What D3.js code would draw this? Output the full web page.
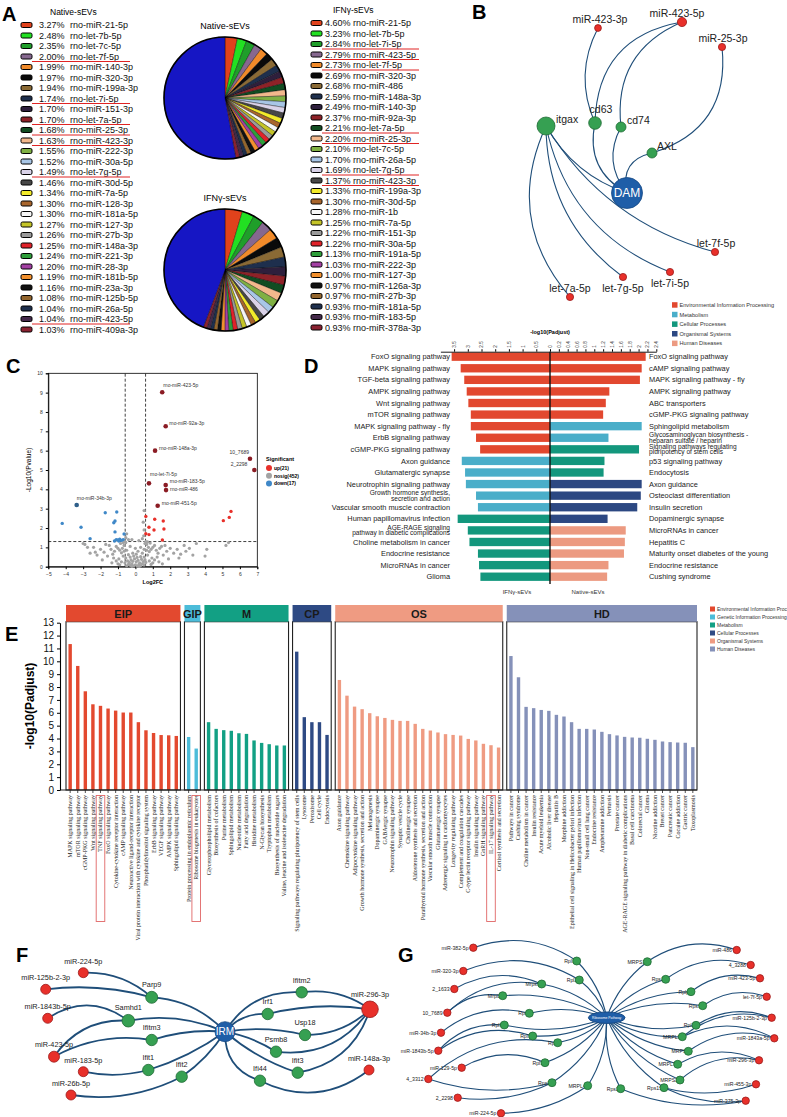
<!DOCTYPE html>
<html>
<head>
<meta charset="utf-8">
<script src="https://cdn.jsdelivr.net/npm/d3@7/dist/d3.min.js"></script>
<style>
  body { margin: 0; background: #fff; }
  svg { display: block; font-family: "Liberation Sans", Arial, sans-serif; }
</style>
</head>
<body>
<svg id="fig" width="787" height="1117"></svg>
<script>
// ---------- A: miRNA proportions ----------
const nativeNames = ["rno-miR-21-5p","rno-let-7b-5p","rno-let-7c-5p","rno-let-7f-5p","rno-miR-140-3p","rno-miR-320-3p","rno-miR-199a-3p","rno-let-7i-5p","rno-miR-151-3p","rno-let-7a-5p","rno-miR-25-3p","rno-miR-423-3p","rno-miR-222-3p","rno-miR-30a-5p","rno-let-7g-5p","rno-miR-30d-5p","rno-miR-7a-5p","rno-miR-128-3p","rno-miR-181a-5p","rno-miR-127-3p","rno-miR-27b-3p","rno-miR-148a-3p","rno-miR-221-3p","rno-miR-28-3p","rno-miR-181b-5p","rno-miR-23a-3p","rno-miR-125b-5p","rno-miR-26a-5p","rno-miR-423-5p","rno-miR-409a-3p"];
const nativePct = [3.27,2.48,2.35,2.00,1.99,1.97,1.94,1.74,1.70,1.70,1.68,1.63,1.55,1.52,1.49,1.46,1.34,1.30,1.30,1.27,1.26,1.25,1.24,1.20,1.19,1.16,1.08,1.04,1.04,1.03];
const nativeMarked = [3,7,9,10,11,14,28];
const ifnNames = ["rno-miR-21-5p","rno-let-7b-5p","rno-let-7i-5p","rno-miR-423-5p","rno-let-7f-5p","rno-miR-320-3p","rno-miR-486","rno-miR-148a-3p","rno-miR-140-3p","rno-miR-92a-3p","rno-let-7a-5p","rno-miR-25-3p","rno-let-7c-5p","rno-miR-26a-5p","rno-let-7g-5p","rno-miR-423-3p","rno-miR-199a-3p","rno-miR-30d-5p","rno-miR-1b","rno-miR-7a-5p","rno-miR-151-3p","rno-miR-30a-5p","rno-miR-191a-5p","rno-miR-222-3p","rno-miR-127-3p","rno-miR-126a-3p","rno-miR-27b-3p","rno-miR-181a-5p","rno-miR-183-5p","rno-miR-378a-3p"];
const ifnPct = [4.60,3.23,2.84,2.79,2.73,2.69,2.68,2.59,2.49,2.37,2.21,2.20,2.10,1.70,1.69,1.37,1.33,1.30,1.28,1.25,1.22,1.22,1.13,1.03,1.00,0.97,0.97,0.93,0.93,0.93];
const ifnMarked = [2,3,4,10,11,14,15];

// ---------- B: DAM network ----------
const bNodes = ["miR-423-3p","miR-423-5p","miR-25-3p","itgax","cd63","cd74","AXL","DAM","let-7f-5p","let-7i-5p","let-7g-5p","let-7a-5p"];
const bKinds = ["mir","mir","mir","gene","gene","gene","gene","hub","mir","mir","mir","mir"];
const bEdges = [["itgax","DAM"],["itgax","let-7f-5p"],["itgax","let-7i-5p"],["itgax","let-7g-5p"],["itgax","let-7a-5p"],["cd63","DAM"],["cd74","DAM"],["AXL","DAM"],["cd63","miR-423-3p"],["cd63","miR-423-5p"],["cd74","miR-423-5p"],["AXL","miR-25-3p"]];

// ---------- C: volcano ----------
const cUpNames = ["rno-miR-423-5p","rno-miR-92a-3p","rno-miR-148a-3p","10_7689","2_2298","rno-let-7i-5p","rno-miR-183-5p","rno-miR-486","rno-miR-451-5p"];
const cUpX = [1.54,1.74,1.13,6.58,6.83,0.78,1.74,1.76,1.28];
const cUpY = [9.02,7.26,6.0,5.58,5.0,4.31,4.22,3.96,3.15];
const cDownNames = ["rno-miR-34b-3p"];
const cDownX = [-3.37];
const cDownY = [3.19];
const upPts = [[5.49,2.86],[5.39,2.55],[5.05,2.38],[1.11,2.45],[1.60,2.36],[0.6,2.6],[0.78,2.04],[1.07,1.9],[1.64,1.95],[0.6,1.7],[0.78,1.66],[1.55,1.38]];
const downPts = [[-4.2,2.24],[-3.12,2.04],[-1.73,2.79],[-1.07,2.83],[-1.17,2.36],[-1.24,2.27],[-1.17,1.8],[-2.6,1.45],[-1.1,1.4],[-1.0,1.38],[-0.9,1.42],[-0.8,1.36],[-1.2,1.33],[-0.7,1.4],[-0.65,1.69],[-0.95,1.33]];
const nosigPts = [[-0.5,0.05],[-0.4,0.12],[-0.3,0.08],[-0.2,0.15],[-0.1,0.05],[0,0.1],[0.1,0.03],[0.2,0.12],[0.3,0.06],[0.4,0.15],[0.5,0.09],[-0.45,0.3],[-0.35,0.22],[-0.25,0.35],[-0.15,0.28],[-0.05,0.4],[0.05,0.25],[0.15,0.33],[0.25,0.2],[0.35,0.38],[0.45,0.27],[0.55,0.35],[-0.55,0.45],[-0.3,0.5],[-0.1,0.55],[0.1,0.48],[0.3,0.52],[0.5,0.5],[-0.2,0.02],[0.22,0.01],[-0.6,0.2],[0.6,0.22],[0.05,0.65],[-0.4,0.62],[0.4,0.7],
  [-0.7,0.55],[-0.8,0.72],[-0.9,0.85],[-1.0,0.95],[-1.1,1.05],[-0.75,0.95],[-0.65,1.1],[-0.7,1.25],[-0.85,1.2],[-1.2,0.8],[-1.3,0.65],[-1.4,0.9],[-1.5,1.1],[-0.95,0.4],[-1.1,0.3],[-1.25,0.45],[-0.8,0.25],[-0.65,0.8],[-1.0,0.15],[-1.35,0.2],[-1.6,0.55],[-1.8,0.75],[-2.0,0.9],[-1.9,0.35],[-2.2,0.6],[-1.7,1.15],[-2.4,1.0],[-2.6,0.7],[-2.9,1.15],[-2.75,1.0],[-3.0,1.2],[-2.3,0.75],
  [0.7,0.6],[0.8,0.78],[0.9,0.9],[1.0,1.0],[1.1,1.1],[0.75,1.0],[0.65,1.15],[0.7,1.28],[0.85,1.22],[1.2,0.85],[1.3,0.7],[1.4,0.95],[1.5,1.05],[0.95,0.45],[1.1,0.35],[1.25,0.5],[0.8,0.3],[0.65,0.85],[1.0,0.2],[1.35,0.25],[1.6,0.6],[1.8,0.8],[2.0,0.95],[1.9,0.4],[2.2,0.7],[1.7,1.1],[2.4,0.9],[2.6,0.65],[2.9,0.8],[3.1,0.95],[3.5,1.2],[3.3,0.6],[4.0,0.55],[4.1,0.9],[5.2,1.1],[5.35,1.25],[2.8,1.1],[2.5,0.45],[1.55,0.15],[0.9,0.12],[-0.9,0.1],
  [-0.15,0.7],[0.15,0.8],[-0.5,0.85],[0.5,0.9],[0.3,1.0],[-0.3,1.05],[0,0.95],[-0.55,1.25],[0.55,1.2],[0.6,1.3],[-0.6,1.3],
  [0.5,2.9],[0.45,2.3],[0.5,1.9],[0.48,1.6],[-0.55,1.5],[-0.5,1.7],[-0.4,1.4],[0.4,1.45],[0.2,1.35],[-0.2,1.4]];

// ---------- D: KEGG comparison ----------
const dCatNames = ["Environmental Information Processing","Metabolism","Cellular Processes","Organismal Systems","Human Diseases"];
const dLeftLabels = ["FoxO signaling pathway","MAPK signaling pathway","TGF-beta signaling pathway","AMPK signaling pathway","Wnt signaling pathway","mTOR signaling pathway","MAPK signaling pathway - fly","ErbB signaling pathway","cGMP-PKG signaling pathway","Axon guidance","Glutamatergic synapse","Neurotrophin signaling pathway","Growth hormone synthesis,\nsecretion and action","Vascular smooth muscle contraction","Human papillomavirus infection","AGE-RAGE signaling\npathway in diabetic complications","Choline metabolism in cancer","Endocrine resistance","MicroRNAs in cancer","Glioma"];
const dLeftValues = [3.59,3.26,3.13,3.04,2.98,2.89,2.89,2.70,2.55,3.22,3.10,3.07,2.70,2.63,3.37,3.0,2.94,2.63,2.59,2.54];
const dLeftCats = [0,0,0,0,0,0,0,0,0,1,1,1,1,1,2,2,2,2,2,2];
const dRightLabels = ["FoxO signaling pathway","cAMP signaling pathway","MAPK signaling pathway - fly","AMPK signaling pathway","ABC transporters","cGMP-PKG signaling pathway","Sphingolipid metabolism","Glycosaminoglycan biosynthesis -\nheparan sulfate / heparin","Signaling pathways regulating\npluripotency of stem cells","p53 signaling pathway","Endocytosis","Axon guidance","Osteoclast differentiation","Insulin secretion","Dopaminergic synapse","MicroRNAs in cancer","Hepatitis C","Maturity onset diabetes of the young","Endocrine resistance","Cushing syndrome"];
const dRightValues = [2.16,2.07,2.03,1.34,1.26,1.20,2.07,1.32,2.01,1.23,1.21,2.07,2.05,1.97,1.30,1.71,1.69,1.67,1.32,1.29];
const dRightCats = [0,0,0,0,0,0,1,1,2,2,2,3,3,3,3,4,4,4,4,4];

// ---------- E: KEGG enrichment by class ----------
const eGroupKeys = ["EIP","GIP","M","CP","OS","HD"];
const eLegendNames = ["Environmental Information Processing","Genetic Information Processing","Metabolism","Cellular Processes","Organismal Systems","Human Diseases"];
const eipLabels = ["MAPK signaling pathway","mTOR signaling pathway","cGMP-PKG signaling pathway","Wnt signaling pathway","TNF signaling pathway","FoxO signaling pathway","Cytokine-cytokine receptor interaction","cAMP signaling pathway","Neuroactive ligand-receptor interaction","Viral protein interaction with cytokine and cytokine receptor","Phosphatidylinositol signaling system","ErbB signaling pathway","VEGF signaling pathway","AMPK signaling pathway","Sphingolipid signaling pathway"];
const eipValues = [11.34,9.64,7.67,6.66,6.54,6.33,6.17,6.02,6.02,5.27,4.64,4.43,4.27,4.25,4.20];
const gipLabels = ["Protein processing in endoplasmic reticulum","Ribosome biogenesis in eukaryotes"];
const gipValues = [4.12,3.22];
const mLabels = ["Glycerophospholipid metabolism","Biosynthesis of cofactors","Purine metabolism","Sphingolipid metabolism","Nucleotide metabolism","Fatty acid degradation","Histidine metabolism","N-Glycan biosynthesis","Tryptophan metabolism","Biosynthesis of nucleotide sugars","Valine, leucine and isoleucine degradation"];
const mValues = [5.27,4.75,4.65,4.60,4.41,4.36,3.85,3.66,3.56,3.46,3.46];
const cpLabels = ["Signaling pathways regulating pluripotency of stem cells","Lysosome","Peroxisome","Cell cycle","Endocytosis"];
const cpValues = [10.75,5.66,5.27,5.27,4.28];
const osLabels = ["Axon guidance","Chemokine signaling pathway","Adipocytokine signaling pathway","Growth hormone synthesis, secretion and action","Melanogenesis","Dopaminergic synapse","GABAergic synapse","Neurotrophin signaling pathway","Synaptic vesicle cycle","Cholinergic synapse","Aldosterone synthesis and secretion","Parathyroid hormone synthesis, secretion and action","Vascular smooth muscle contraction","Glutamatergic synapse","Adrenergic signaling in cardiomyocytes","Longevity regulating pathway","Complement and coagulation cascades","C-type lectin receptor signaling pathway","Insulin signaling pathway","GnRH signaling pathway","IL-17 signaling pathway","Cortisol synthesis and secretion"];
const osValues = [8.55,7.33,6.48,6.28,5.97,5.73,5.60,5.45,5.37,5.37,5.14,4.75,4.62,4.47,4.34,4.28,4.23,3.97,3.85,3.59,3.48,3.30];
const hdLabels = ["Pathways in cancer","Cushing syndrome","Choline metabolism in cancer","Insulin resistance","Acute myeloid leukemia","Alcoholic liver disease","Hepatitis B","Morphine addiction","Epithelial cell signaling in Helicobacter pylori infection","Human papillomavirus infection","Non-small cell lung cancer","Endocrine resistance","Amphetamine addiction","Pertussis","Prostate cancer","AGE-RAGE signaling pathway in diabetic complications","Basal cell carcinoma","Colorectal cancer","Glioma","Nicotine addiction","Breast cancer","Pancreatic cancer","Cocaine addiction","Gastric cancer","Toxoplasmosis"];
const hdValues = [10.41,8.76,6.46,6.36,6.22,6.15,5.84,5.71,5.27,4.75,4.75,4.70,4.52,4.34,4.24,4.13,4.08,4.06,3.98,3.90,3.77,3.72,3.69,3.67,3.33];
const eBoxed = ["TNF signaling pathway","Ribosome biogenesis in eukaryotes","IL-17 signaling pathway"];

// ---------- F: IRM network ----------
const fNodes = ["miR-224-5p","miR-125b-2-3p","miR-1843b-5p","miR-423-5p","miR-183-5p","miR-26b-5p","Parp9","Samhd1","Ifitm3","Ifit1","Ifit2","IRM","Ifitm2","Irf1","Usp18","Psmb8","Ifit3","Ifi44","miR-296-3p","miR-148a-3p"];
const fKinds = ["mir","mir","mir","mir","mir","mir","gene","gene","gene","gene","gene","hub","gene","gene","gene","gene","gene","gene","mir","mir"];
const fEdges = [["miR-224-5p","Parp9"],["miR-125b-2-3p","Parp9"],["Parp9","IRM"],["miR-1843b-5p","Samhd1"],["miR-423-5p","Samhd1"],["Samhd1","IRM"],["miR-423-5p","Ifitm3"],["Ifitm3","IRM"],["miR-183-5p","Ifit1"],["Ifit1","IRM"],["miR-26b-5p","Ifit2"],["Ifit2","IRM"],["IRM","Ifitm2"],["Ifitm2","miR-296-3p"],["IRM","Irf1"],["Irf1","miR-296-3p"],["IRM","Usp18"],["Usp18","miR-296-3p"],["IRM","Psmb8"],["Psmb8","miR-296-3p"],["IRM","Ifit3"],["Ifit3","miR-296-3p"],["IRM","Ifi44"],["Ifi44","miR-148a-3p"]];

// ---------- G: Ribosome network ----------
const gLeftMirs = ["miR-382-5p","miR-320-3p","2_1633","10_7689","miR-34b-3p","miR-1843b-5p","miR-129-5p","4_3312","2_2298","miR-224-5p"];
const gLeftGenes = ["Rpl15","Rpl26","Mrps16","Mrpl24","Rps8","Rpl35","Rpl36","Rpl4","Rpl10","Rps16","MRPL42"];
const gRightGenes = ["MRPS10","Rps15","Rplp1","Rps10","Rpl11","MRPL38","MRPS7","MRPL39","MRPS21","Rps15a","Rps29"];
const gRightMirs = ["miR-486","4_3288","miR-423-5p","let-7f-5p","miR-125b-2-3p","miR-1843a-5p","miR-296-3p","miR-455-3p","miR-375-3p"];
const gMirEdges = [["miR-382-5p","Rpl15"],["miR-320-3p","Rpl26"],["2_1633","Mrps16"],["10_7689","Mrpl24"],["10_7689","Mrps16"],["miR-34b-3p","Rps8"],["miR-1843b-5p","Rpl35"],["miR-1843b-5p","Rpl36"],["miR-129-5p","Rpl10"],["4_3312","Rpl4"],["4_3312","Rps16"],["2_2298","Rps16"],["miR-224-5p","MRPL42"],["MRPS10","miR-486"],["Rps15","4_3288"],["Rplp1","miR-423-5p"],["Rps10","let-7f-5p"],["Rpl11","miR-125b-2-3p"],["MRPL38","miR-125b-2-3p"],["MRPS7","miR-1843a-5p"],["MRPL38","miR-1843a-5p"],["MRPL39","miR-296-3p"],["MRPS21","miR-296-3p"],["Rps15a","miR-455-3p"],["Rps29","miR-375-3p"],["Rps15a","miR-375-3p"]];

// =====================================================================
const svg = d3.select("#fig");
const edgeColor = "#1f4e79";
const nodeFill = { mir: "#e8302a", gene: "#36a052", hub: "#1f5ea8" };
const nodeStroke = { mir: "#9c1b1b", gene: "#1f6b35", hub: "#174a85" };

// quadratic arc between two points, bend = control offset as a share of length
function bentPath(a, b, bend) {
  const dx = b[0] - a[0], dy = b[1] - a[1];
  const p = d3.path();
  p.moveTo(a[0], a[1]);
  p.quadraticCurveTo((a[0] + b[0]) / 2 - dy * bend, (a[1] + b[1]) / 2 + dx * bend, b[0], b[1]);
  return p.toString();
}

// panel letters
const letters = [["A", 2, 21], ["B", 472, 19], ["C", 6, 373], ["D", 304, 373], ["E", 5, 641], ["F", 16, 962], ["G", 398, 962]];
svg.selectAll("text.letter").data(letters).join("text").attr("class", "letter")
  .attr("x", d => d[1]).attr("y", d => d[2])
  .attr("font-size", 20).attr("font-weight", "bold").text(d => d[0]);

// ---------------- Panel A ----------------
const pieColors = ["#e0421c","#22e022","#1f9e2a","#86688f","#f08a2a","#0a0a0a","#8a6a35","#1e2f4d","#2e1f3c","#8e2228","#114d22","#f2b88c","#7fb043","#a8c6e6","#d9d2e8","#474747","#f2ea2a","#a8652c","#f6f6f6","#c4c428","#9a9a9a","#e0222a","#2e9e3a","#a340a3","#f2902e","#111111","#93662e","#1e2f4d","#44294a","#8a2231"];
const othersColor = "#1616c4";

function drawList(names, pct, marked, title, opt) {
  const g = svg.append("g");
  const ry = d3.scaleLinear().domain([0, names.length - 1]).range([opt.y0, opt.y0 + (names.length - 1) * 10.5]);
  g.append("text").attr("x", opt.titleX).attr("y", opt.y0 - 10).attr("font-size", 8.5).text(title);
  const row = g.selectAll("g.row").data(names).join("g").attr("class", "row")
    .attr("transform", (d, i) => `translate(0,${ry(i)})`);
  row.append("rect").attr("x", opt.swX).attr("y", -2.5).attr("width", 11).attr("height", 5).attr("rx", 1.5)
    .attr("fill", (d, i) => pieColors[i]).attr("stroke", "#000").attr("stroke-width", 1);
  row.append("text").attr("x", opt.pctX).attr("y", 3.2).attr("font-size", 9).attr("fill", "#111")
    .text((d, i) => pct[i].toFixed(2) + "%");
  row.append("text").attr("x", opt.nameX).attr("y", 3.2).attr("font-size", 9).attr("fill", "#111").text(d => d);
  g.selectAll("line.ul").data(marked).join("line").attr("class", "ul")
    .attr("x1", opt.ulX0).attr("x2", opt.ulX1)
    .attr("y1", d => ry(d) + 5).attr("y2", d => ry(d) + 5)
    .attr("stroke", "#e02424").attr("stroke-width", 1);
}
drawList(nativeNames, nativePct, nativeMarked, "Native-sEVs",
  { y0: 25, titleX: 50, swX: 21, pctX: 39, nameX: 70, ulX0: 32, ulX1: 130 });
drawList(ifnNames, ifnPct, ifnMarked, "IFNγ-sEVs",
  { y0: 23, titleX: 333, swX: 311, pctX: 325, nameX: 353, ulX0: 322, ulX1: 419 });

function drawPie(cx, cy, r, pct, title) {
  const vals = pct.concat([100 - d3.sum(pct)]);
  const pie = d3.pie().sort(null).value(d => d);
  const arc = d3.arc().innerRadius(0).outerRadius(r);
  const g = svg.append("g").attr("transform", `translate(${cx},${cy})`);
  g.selectAll("path").data(pie(vals)).join("path").attr("d", arc)
    .attr("fill", (d, i) => i < pct.length ? pieColors[i] : othersColor)
    .attr("stroke", "#000").attr("stroke-width", 0.35);
  g.append("circle").attr("r", r).attr("fill", "none").attr("stroke", "#000").attr("stroke-width", 1.6);
  svg.append("text").attr("x", cx).attr("y", cy - r - 8).attr("text-anchor", "middle")
    .attr("font-size", 9).text(title);
}
drawPie(225, 98, 61, nativePct, "Native-sEVs");
drawPie(225, 270, 61, ifnPct, "IFNγ-sEVs");

// ---------------- generic network ----------------
function drawNetwork(nodes, kinds, edges, bends, layout, opt) {
  const g = svg.append("g");
  const pos = new Map(nodes.map(n => [n, layout[n]]));
  g.selectAll("path.edge").data(edges).join("path").attr("class", "edge")
    .attr("d", (e, i) => bentPath(pos.get(e[0]), pos.get(e[1]), bends[i]))
    .attr("fill", "none").attr("stroke", edgeColor).attr("stroke-width", opt.edgeW);
  const kindOf = new Map(nodes.map((n, i) => [n, kinds[i]]));
  if (opt.labelsUnder) drawLabels();
  const nd = g.selectAll("g.node").data(nodes).join("g").attr("class", "node")
    .attr("transform", n => `translate(${pos.get(n)[0]},${pos.get(n)[1]})`);
  nd.each(function (n) {
    const k = kindOf.get(n), p = pos.get(n), s = d3.select(this);
    if (k === "hub" && opt.ellipseHub) {
      s.append("ellipse").attr("rx", p[2]).attr("ry", p[3]).attr("fill", nodeFill.hub).attr("stroke", nodeStroke.hub);
    } else {
      s.append("circle").attr("r", p[2]).attr("fill", nodeFill[k]).attr("stroke", nodeStroke[k]).attr("stroke-width", 0.8);
    }
    if (k === "hub") {
      s.append("text").attr("text-anchor", "middle").attr("dy", "0.35em").attr("fill", "#fff")
        .attr("font-size", opt.hubFont).text(n);
    }
  });
  if (!opt.labelsUnder) drawLabels();
  function drawLabels() {
    g.selectAll("text.lab").data(nodes.filter(n => kindOf.get(n) !== "hub")).join("text").attr("class", "lab")
      .attr("x", n => pos.get(n)[0] + opt.labelPos(n)[0])
      .attr("y", n => pos.get(n)[1] + opt.labelPos(n)[1])
      .attr("text-anchor", n => opt.labelPos(n)[2])
      .attr("font-size", opt.font).attr("fill", "#222").text(n => n);
  }
}

// ---------------- Panel B ----------------
const bLayout = {
  "miR-423-3p": [598, 28, 3.4], "miR-423-5p": [682, 22, 4.6], "miR-25-3p": [722, 47, 3.6],
  "itgax": [546, 126, 9], "cd63": [595, 123, 6.3], "cd74": [621, 127, 5], "AXL": [652, 153, 5],
  "DAM": [627, 193, 15.5], "let-7f-5p": [715, 252, 3.6], "let-7i-5p": [670, 272, 3.6],
  "let-7g-5p": [623, 277, 3.6], "let-7a-5p": [570, 297, 3.6]
};
const bLabelPos = {
  "miR-423-3p": [2, -5, "middle"], "miR-423-5p": [-5, -5, "middle"], "miR-25-3p": [1, -5, "middle"],
  "itgax": [10, -3, "start"], "cd63": [6, -10, "middle"], "cd74": [6, -3, "start"], "AXL": [5, -3, "start"],
  "let-7f-5p": [1, -5, "middle"], "let-7i-5p": [0, 15, "middle"], "let-7g-5p": [0, 15, "middle"],
  "let-7a-5p": [0, -5, "middle"]
};
const bBends = [0.19, 0.2, 0.27, 0.25, 0.32, 0.37, 0.33, 0.5, -0.24, -0.41, -0.37, 0.41];
drawNetwork(bNodes, bKinds, bEdges, bBends, bLayout,
  { edgeW: 1.1, font: 10.5, hubFont: 12, labelPos: n => bLabelPos[n] });

// ---------------- Panel C ----------------
(function () {
  const x = d3.scaleLinear().domain([-5, 7]).range([48.3, 257.3]);
  const y = d3.scaleLinear().domain([0, 10]).range([566.7, 373.3]);
  const g = svg.append("g").attr("font-size", 5);
  const xa = g.append("g").attr("transform", `translate(0,${y(0)})`)
    .call(d3.axisBottom(x).tickValues(d3.range(-5, 8)).tickSize(2.5).tickFormat(d3.format("d")));
  const ya = g.append("g").attr("transform", `translate(${x(-5)},0)`)
    .call(d3.axisLeft(y).tickValues(d3.range(0, 11)).tickSize(2.5));
  [xa, ya].forEach(a => { a.selectAll("text").attr("font-size", 5).attr("fill", "#333"); a.select(".domain").attr("stroke-width", 0.8); });
  g.append("rect").attr("x", x(-5)).attr("y", y(10)).attr("width", x(7) - x(-5)).attr("height", y(0) - y(10))
    .attr("fill", "none").attr("stroke", "#000").attr("stroke-width", 0.8);
  const fcCut = Math.log2(1.5), pCut = -Math.log10(0.05);
  g.selectAll("line.vcut").data([-fcCut, fcCut]).join("line")
    .attr("x1", d => x(d)).attr("x2", d => x(d)).attr("y1", y(0)).attr("y2", y(10))
    .attr("stroke", "#111").attr("stroke-width", 0.8).attr("stroke-dasharray", "3,2");
  g.append("line").attr("x1", x(-5)).attr("x2", x(7)).attr("y1", y(pCut)).attr("y2", y(pCut))
    .attr("stroke", "#111").attr("stroke-width", 0.8).attr("stroke-dasharray", "3,2");
  g.selectAll("circle.ns").data(nosigPts).join("circle").attr("cx", d => x(d[0])).attr("cy", d => y(d[1]))
    .attr("r", 1.6).attr("fill", "#a3a3a3");
  g.selectAll("circle.up").data(upPts).join("circle").attr("cx", d => x(d[0])).attr("cy", d => y(d[1]))
    .attr("r", 1.7).attr("fill", "#e8302a");
  g.selectAll("circle.dn").data(downPts).join("circle").attr("cx", d => x(d[0])).attr("cy", d => y(d[1]))
    .attr("r", 1.7).attr("fill", "#3f88c8");
  const named = cUpNames.map((n, i) => ({ n, x: cUpX[i], y: cUpY[i], c: "#8b1c24" }))
    .concat(cDownNames.map((n, i) => ({ n, x: cDownX[i], y: cDownY[i], c: "#2f5f8a" })));
  const off = [[1, -5, "start"], [3.5, -1, "start"], [4, -0.5, "start"], [-1, -5, "end"], [-7, -4, "end"],
    [1, -7, "start"], [4, -2, "start"], [4, 0.5, "start"], [4, -1, "start"], [0, -5, "start"]];
  g.selectAll("circle.named").data(named).join("circle").attr("cx", d => x(d.x)).attr("cy", d => y(d.y))
    .attr("r", 2.3).attr("fill", d => d.c);
  g.selectAll("text.named").data(named).join("text").attr("x", (d, i) => x(d.x) + off[i][0])
    .attr("y", (d, i) => y(d.y) + off[i][1]).attr("text-anchor", (d, i) => off[i][2])
    .attr("font-size", 5).attr("fill", "#333").text(d => d.n);
  g.append("text").attr("x", (x(-5) + x(7)) / 2).attr("y", 584).attr("text-anchor", "middle")
    .attr("font-size", 5.5).attr("font-weight", "bold").text("Log2FC");
  g.append("text").attr("transform", `translate(31,${(y(0) + y(10)) / 2}) rotate(-90)`).attr("text-anchor", "middle")
    .attr("font-size", 6.5).text("-Log10(Pvalue)");
  const leg = [["up(21)", "#e8302a"], ["nosig(452)", "#a3a3a3"], ["down(17)", "#3f88c8"]];
  g.append("text").attr("x", 266).attr("y", 461).attr("font-size", 5.5).attr("font-weight", "bold").text("Significant");
  const lg = g.selectAll("g.leg").data(leg).join("g").attr("transform", (d, i) => `translate(269,${468 + i * 7.8})`);
  lg.append("circle").attr("r", 3).attr("fill", d => d[1]);
  lg.append("text").attr("x", 5).attr("y", 1.8).attr("font-size", 5).attr("font-weight", "bold").text(d => d[0]);
})();

// ---------------- Panel D ----------------
const dCatColors = ["#e2482f", "#4aaec9", "#13977d", "#2c4882", "#ec9a81"];
(function () {
  const cx = 550;
  const xL = d3.scaleLinear().domain([0, 4]).range([cx, 440.4]);
  const xR = d3.scaleLinear().domain([0, 2.4]).range([cx, 656.3]);
  const y = d3.scaleBand().domain(d3.range(20)).range([350.9, 582.5]).paddingInner(0.28).paddingOuter(0.14);
  const g = svg.append("g");
  g.selectAll("rect.l").data(dLeftValues).join("rect").attr("x", d => xL(d)).attr("width", d => cx - xL(d))
    .attr("y", (d, i) => y(i)).attr("height", y.bandwidth()).attr("fill", (d, i) => dCatColors[dLeftCats[i]]);
  g.selectAll("rect.r").data(dRightValues).join("rect").attr("x", cx).attr("width", d => xR(d) - cx)
    .attr("y", (d, i) => y(i)).attr("height", y.bandwidth()).attr("fill", (d, i) => dCatColors[dRightCats[i]]);
  function labels(arr, xx, anchor) {
    const t = g.selectAll(null).data(arr).join("text").attr("x", xx).attr("text-anchor", anchor)
      .attr("font-size", d => d.includes("\n") ? 6.6 : 7.4).attr("fill", "#222")
      .attr("y", (d, i) => y(i) + y.bandwidth() / 2);
    t.each(function (d) {
      const lines = d.split("\n"), s = d3.select(this);
      lines.forEach((ln, k) => s.append("tspan").attr("x", xx)
        .attr("dy", k === 0 ? (lines.length > 1 ? "-0.1em" : "0.35em") : "0.86em").text(ln));
    });
  }
  labels(dLeftLabels, 450, "end");
  labels(dRightLabels, 649, "start");
  const axY = 351.7;
  const al = g.append("g").attr("transform", `translate(0,${axY})`)
    .call(d3.axisTop(xL).tickValues(d3.range(0, 3.51, 0.5)).tickSize(2.5).tickSizeOuter(0).tickFormat(d3.format("~g")));
  const ar = g.append("g").attr("transform", `translate(0,${axY})`)
    .call(d3.axisTop(xR).tickValues(d3.range(0.2, 2.41, 0.2)).tickSize(2.5).tickSizeOuter(0).tickFormat(d3.format("~g")));
  [al, ar].forEach(a => {
    a.selectAll("text").attr("transform", "rotate(-90)").attr("text-anchor", "start")
      .attr("x", 4).attr("y", 0).attr("dy", "0.32em").attr("font-size", 4.6).attr("fill", "#333");
    a.select(".domain").attr("stroke-width", 0.9);
  });
  g.append("line").attr("x1", cx).attr("x2", cx).attr("y1", axY).attr("y2", 584).attr("stroke", "#111").attr("stroke-width", 1.4);
  g.append("text").attr("x", cx).attr("y", 334).attr("text-anchor", "middle").attr("font-size", 5.5)
    .attr("font-weight", "bold").text("-log10(Padjust)");
  g.append("text").attr("x", 517).attr("y", 594).attr("text-anchor", "middle").attr("font-size", 6).attr("fill", "#333").text("IFNγ-sEVs");
  g.append("text").attr("x", 588).attr("y", 594).attr("text-anchor", "middle").attr("font-size", 6).attr("fill", "#333").text("Native-sEVs");
  const lg = g.selectAll("g.dleg").data(dCatNames).join("g").attr("transform", (d, i) => `translate(672,${305 + i * 9.6})`);
  lg.append("rect").attr("y", -2.8).attr("width", 5.5).attr("height", 5.5).attr("fill", (d, i) => dCatColors[i]);
  lg.append("text").attr("x", 7.5).attr("y", 2).attr("font-size", 5.6).attr("fill", "#333").text(d => d);
})();

// ---------------- Panel E ----------------
const eColors = ["#e3492f", "#4cbcd9", "#12a084", "#2e4a84", "#ef9b82", "#8591b9"];
(function () {
  const groupLabels = [eipLabels, gipLabels, mLabels, cpLabels, osLabels, hdLabels];
  const groupValues = [eipValues, gipValues, mValues, cpValues, osValues, hdValues];
  const gap = 0.63;
  const bars = [], boxes = [];
  let k = 0;
  eGroupKeys.forEach((key, gi) => {
    const start = k;
    groupLabels[gi].forEach((lab, j) => { bars.push({ label: lab, value: groupValues[gi][j], g: gi, pos: k + gi * gap }); k++; });
    boxes.push({ key, g: gi, p0: start + gi * gap - 0.55, p1: k - 1 + gi * gap + 0.55 });
  });
  const x = d3.scaleLinear().domain([-0.55, (k - 1) + (eGroupKeys.length - 1) * gap + 0.55]).range([66, 697]);
  const y = d3.scaleLinear().domain([0, 13]).range([790, 622.7]);
  const g = svg.append("g");
  g.selectAll("rect.bar").data(bars).join("rect").attr("x", d => x(d.pos) - 1.7).attr("width", 3.4)
    .attr("y", d => y(d.value)).attr("height", d => y(0) - y(d.value)).attr("fill", d => eColors[d.g]);
  g.selectAll("rect.box").data(boxes).join("rect").attr("x", d => x(d.p0)).attr("width", d => x(d.p1) - x(d.p0))
    .attr("y", 621.7).attr("height", y(0) - 621.7).attr("fill", "none").attr("stroke", "#222").attr("stroke-width", 1.1);
  g.selectAll("rect.head").data(boxes).join("rect").attr("x", d => x(d.p0)).attr("width", d => x(d.p1) - x(d.p0))
    .attr("y", 605).attr("height", 16.7).attr("fill", d => eColors[d.g]);
  g.selectAll("text.head").data(boxes).join("text").attr("x", d => (x(d.p0) + x(d.p1)) / 2).attr("y", 617.5)
    .attr("text-anchor", "middle").attr("font-size", 11).attr("font-weight", "bold").attr("fill", "#1a1a1a").text(d => d.key);
  g.append("line").attr("x1", 60).attr("x2", 697).attr("y1", y(0)).attr("y2", y(0)).attr("stroke", "#222").attr("stroke-width", 1.1);
  g.selectAll("line.tick").data(bars).join("line").attr("x1", d => x(d.pos)).attr("x2", d => x(d.pos))
    .attr("y1", y(0)).attr("y2", y(0) + 3).attr("stroke", "#222").attr("stroke-width", 0.8);
  const ya = g.append("g").attr("transform", "translate(60,0)")
    .call(d3.axisLeft(y).tickValues(d3.range(0, 14)).tickSize(3).tickSizeOuter(0));
  ya.selectAll("text").attr("font-size", 10).attr("fill", "#111");
  ya.select(".domain").attr("stroke-width", 1.1);
  g.append("text").attr("transform", `translate(34,706) rotate(-90)`).attr("text-anchor", "middle")
    .attr("font-size", 12).attr("font-weight", "bold").text("-log10(Padjust)");
  g.selectAll("text.xl").data(bars).join("text")
    .attr("transform", d => `translate(${x(d.pos)},795) rotate(-90)`).attr("text-anchor", "end").attr("dy", "0.33em")
    .attr("font-family", '"Liberation Serif", "Times New Roman", serif').attr("font-size", 6).attr("fill", "#222")
    .text(d => d.label);
  g.selectAll("rect.mark").data(bars.filter(d => eBoxed.includes(d.label))).join("rect")
    .attr("x", d => x(d.pos) - 4.3).attr("width", 8.6).attr("y", 795.5).attr("height", 126)
    .attr("fill", "none").attr("stroke", "#e06666").attr("stroke-width", 0.9);
  const lg = g.selectAll("g.eleg").data(eLegendNames).join("g").attr("transform", (d, i) => `translate(710,${609 + i * 8})`);
  lg.append("rect").attr("y", -2.5).attr("width", 5).attr("height", 5).attr("fill", (d, i) => eColors[i]);
  lg.append("text").attr("x", 7).attr("y", 1.8).attr("font-size", 5).attr("fill", "#333").text(d => d);
})();

// ---------------- Panel F ----------------
const fLayout = {
  "miR-224-5p": [83.3, 972.7, 5], "miR-125b-2-3p": [45.7, 989.3, 5], "miR-1843b-5p": [47.7, 1018.3, 5],
  "miR-423-5p": [54, 1056.7, 5.5], "miR-183-5p": [83.3, 1071.7, 5], "miR-26b-5p": [71, 1095, 5],
  "Parp9": [151.7, 997.3, 6], "Samhd1": [128.3, 1020.7, 6.3], "Ifitm3": [151.7, 1040, 5.7],
  "Ifit1": [148.3, 1070, 5.7], "Ifit2": [181.7, 1076.7, 5.7], "IRM": [225, 1031.7, 10],
  "Ifitm2": [301.7, 992.3, 5.7], "Irf1": [267.7, 1014, 5.7], "Usp18": [305, 1035, 5.7],
  "Psmb8": [276, 1051.7, 5.7], "Ifit3": [297.7, 1072.7, 5.7], "Ifi44": [260, 1080.7, 5.7],
  "miR-296-3p": [370, 1009.3, 8.3], "miR-148a-3p": [369, 1070, 5]
};
const fBends = [-0.2, -0.1, -0.2, -0.35, -0.28, -0.15, -0.17, -0.1, 0.12, 0.08, 0.16, 0.1, -0.3, -0.2, -0.25, -0.1, -0.1, 0.2, -0.1, 0.3, 0.1, 0.3, 0.37, 0.31];
drawNetwork(fNodes, fKinds, fEdges, fBends, fLayout,
  { edgeW: 1.8, font: 7.3, hubFont: 10, labelPos: n => [0, -fLayout[n][2] - 4, "middle"] });

// ---------------- Panel G ----------------
const gLayout = {
  "miR-382-5p": [473.3, 947.7, 3.7], "miR-320-3p": [463.3, 971, 3.7], "2_1633": [454.3, 989, 3.7],
  "10_7689": [447.3, 1012.7, 3.7], "miR-34b-3p": [441, 1032.7, 3.7], "miR-1843b-5p": [438.3, 1050.7, 3.7],
  "miR-129-5p": [461.7, 1067.7, 3.7], "4_3312": [428.3, 1079, 3.7], "2_2298": [457.7, 1097.7, 3.7],
  "miR-224-5p": [501, 1113.3, 3.7],
  "Rpl15": [576.7, 961, 4], "Rpl26": [579.3, 980, 4], "Mrps16": [541.7, 984, 4], "Mrpl24": [502.7, 995.7, 4],
  "Rps8": [529.3, 1013.3, 4], "Rpl35": [504.3, 1025, 4], "Rpl36": [532.7, 1036, 4], "Rpl4": [557.7, 1042.7, 4],
  "Rpl10": [545, 1062.7, 4], "Rps16": [552, 1082.7, 4], "MRPL42": [587.7, 1085.7, 4],
  "MRPS10": [647.3, 961.7, 4], "Rps15": [665.7, 979.3, 4], "Rplp1": [691, 991.7, 4], "Rps10": [702.7, 1005.7, 4],
  "Rpl11": [696, 1025.3, 4], "MRPL38": [682.3, 1036.7, 4], "MRPS7": [688.3, 1051.3, 4], "MRPL39": [677.7, 1064.3, 4],
  "MRPS21": [680, 1080, 4], "Rps15a": [664, 1087.7, 4], "Rps29": [620.7, 1088.7, 4],
  "miR-486": [736.7, 950, 3.7], "4_3288": [750.7, 965, 3.7], "miR-423-5p": [760, 978.3, 3.7],
  "let-7f-5p": [766.7, 996.7, 3.7], "miR-125b-2-3p": [771.7, 1017.7, 3.7], "miR-1843a-5p": [774.3, 1038.3, 3.7],
  "miR-296-3p": [759, 1060.3, 3.7], "miR-455-3p": [756, 1084.3, 3.7], "miR-375-3p": [745.7, 1100.7, 3.7],
  "Ribosome Pathway": [606.7, 1017.7, 18.3, 5.7]
};
(function () {
  const hub = "Ribosome Pathway";
  const nodes = gLeftMirs.concat(gLeftGenes, gRightGenes, gRightMirs, [hub]);
  const kinds = gLeftMirs.map(() => "mir").concat(gLeftGenes.map(() => "gene"), gRightGenes.map(() => "gene"),
    gRightMirs.map(() => "mir"), ["hub"]);
  const hubY = gLayout[hub][1];
  const hubEdges = gLeftGenes.map(n => [n, hub]).concat(gRightGenes.map(n => [hub, n]));
  const hubBends = hubEdges.map(e => {
    const other = e[0] === hub ? e[1] : e[0];
    return gLayout[other][1] < hubY ? -0.15 : 0.15;
  });
  const mirBends = gMirEdges.map(e => {
    const a = gLayout[e[0]], b = gLayout[e[1]];
    return (a[1] + b[1]) / 2 > 1075 ? 0.15 : -0.25;
  });
  const mirSet = new Set(gLeftMirs.concat(gRightMirs));
  drawNetwork(nodes, kinds, hubEdges.concat(gMirEdges), hubBends.concat(mirBends), gLayout, {
    edgeW: 1.1, font: 5.2, hubFont: 3.4, ellipseHub: true, labelsUnder: true,
    labelPos: n => mirSet.has(n) ? [-gLayout[n][2] - 1, 1.8, "end"] : [1, 1.8, "end"]
  });
})();
</script>
</body>
</html>
